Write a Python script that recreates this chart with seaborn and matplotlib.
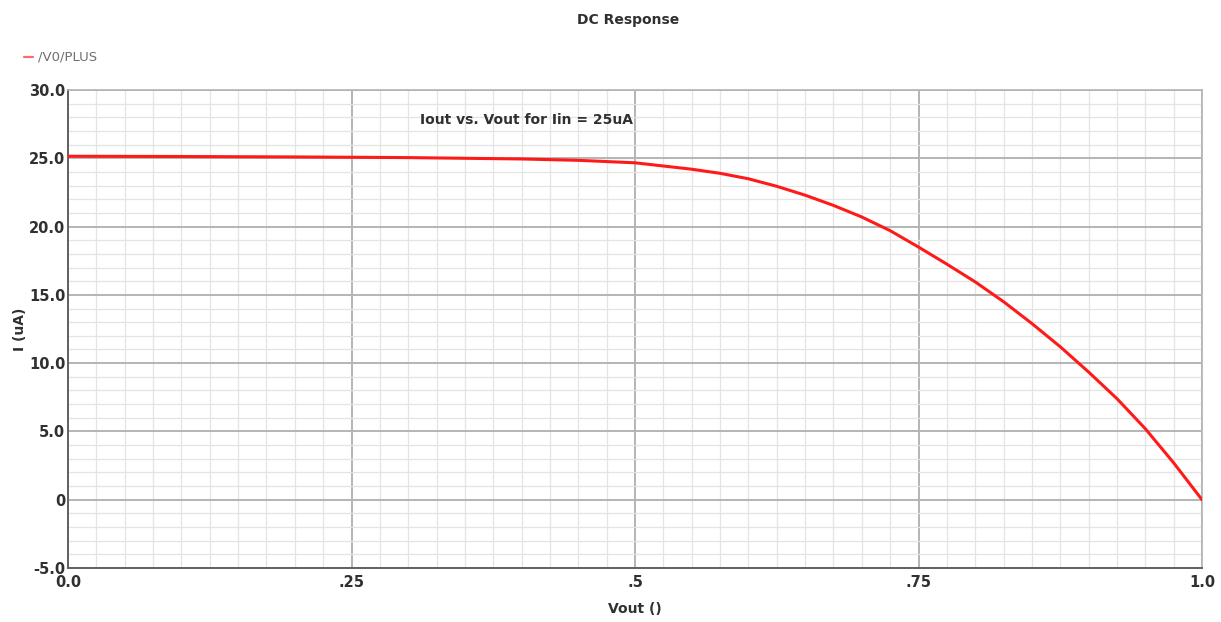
import matplotlib
matplotlib.use("Agg")
import matplotlib.pyplot as plt
import seaborn as sns
import pandas as pd
from matplotlib.lines import Line2D
from matplotlib.ticker import MultipleLocator, FixedLocator, FixedFormatter

vout = [0.0, 0.1, 0.2, 0.3, 0.35, 0.4, 0.45, 0.5, 0.55, 0.575, 0.6, 0.625, 0.65, 0.675, 0.7,
        0.725, 0.75, 0.775, 0.8, 0.825, 0.85, 0.875, 0.9, 0.925, 0.95, 0.975, 1.0]
iout = [25.15, 25.13, 25.1, 25.05, 25.0, 24.95, 24.85, 24.67, 24.2, 23.9, 23.5, 22.95, 22.3, 21.55, 20.7,
        19.7, 18.5, 17.25, 15.95, 14.5, 12.9, 11.2, 9.35, 7.4, 5.2, 2.7, 0.0]
series_name = "/V0/PLUS"
title = "DC Response"
annotation = "Iout vs. Vout for Iin = 25uA"
xticks = [0.0, 0.25, 0.5, 0.75, 1.0]
xticklabels = ["0.0", ".25", ".5", ".75", "1.0"]
yticks = [-5, 0, 5, 10, 15, 20, 25, 30]
yticklabels = ["-5.0", "0", "5.0", "10.0", "15.0", "20.0", "25.0", "30.0"]

sns.set_style("white")
plt.rcParams['font.family'] = ['DejaVu Sans']

df = pd.DataFrame({"Vout": vout, "I": iout})

fig = plt.figure(figsize=(12.21, 6.22), dpi=100)
ax = fig.add_axes([68/1221, 1 - 568/622, (1202-68)/1221, (568-90)/622])

sns.lineplot(data=df, x="Vout", y="I", color="#ff1a1a", lw=2.2, ax=ax, zorder=5)

ax.set_xlim(0, 1.0)
ax.set_ylim(-5, 30)
ax.xaxis.set_major_locator(FixedLocator(xticks))
ax.xaxis.set_major_formatter(FixedFormatter(xticklabels))
ax.yaxis.set_major_locator(FixedLocator(yticks))
ax.yaxis.set_major_formatter(FixedFormatter(yticklabels))
ax.xaxis.set_minor_locator(MultipleLocator(0.025))
ax.yaxis.set_minor_locator(MultipleLocator(1.0))

ax.grid(which="major", color="#b4b4b4", lw=1.4)
ax.grid(which="minor", color="#e4e4e4", lw=0.9)
ax.set_axisbelow(True)

for s in ["left", "bottom"]:
    ax.spines[s].set_color("#606060")
    ax.spines[s].set_linewidth(1.4)
for s in ["top", "right"]:
    ax.spines[s].set_color("#b4b4b4")
    ax.spines[s].set_linewidth(1.2)

ax.tick_params(axis="both", which="major", direction="in", length=4, width=1, color="#606060",
               labelsize=10.5, labelcolor="#303030", pad=2)
ax.tick_params(axis="both", which="minor", direction="in", length=3, width=1, color="#808080")
ax.tick_params(axis="x", which="major", pad=5)
for lab in ax.get_xticklabels() + ax.get_yticklabels():
    lab.set_fontweight("bold")

ax.set_xlabel("Vout ()", fontsize=10, color="#303030", fontweight="bold", labelpad=9)
ax.set_ylabel("I (uA)", fontsize=10, color="#303030", fontweight="bold", labelpad=1)

ax.text(0.31, 27.8, annotation, fontsize=10, color="#303030", fontweight="bold", va="center")

fig.text(628/1221, 1 - 20/622, title, ha="center", va="center", fontsize=10, color="#303030", fontweight="bold")
fig.add_artist(Line2D([24/1221, 33/1221], [1 - 57/622, 1 - 57/622], color="#ff6a6a", lw=1.6,
                      transform=fig.transFigure))
fig.text(38/1221, 1 - 57/622, series_name, ha="left", va="center", fontsize=9.5, color="#707070")

fig.savefig("out.png", dpi=100)
